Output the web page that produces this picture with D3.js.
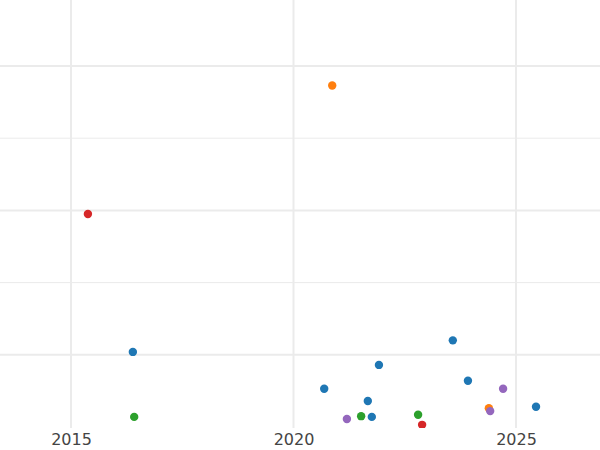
<!DOCTYPE html>
<html>
<head>
<meta charset="utf-8">
<script src="https://cdn.jsdelivr.net/npm/d3@7"></script>
<style>
  body { margin: 0; background: #fff; }
  text { font-family: "DejaVu Sans", sans-serif; }
</style>
</head>
<body>
<svg id="chart"></svg>
<script>
const years  = [2020.87, 2015.38, 2016.39, 2016.42, 2020.69, 2021.2, 2021.52, 2021.67, 2021.76, 2021.92, 2022.8, 2022.89, 2023.58, 2023.92, 2024.39, 2024.42, 2024.71, 2025.45]
const values = [4.73, 2.95, 1.04, 0.14, 0.53, 0.11, 0.15, 0.36, 0.14, 0.86, 0.17, 0.03, 1.2, 0.64, 0.26, 0.22, 0.53, 0.28]
const groups = ['orange', 'red', 'blue', 'green', 'blue', 'purple', 'green', 'blue', 'blue', 'blue', 'green', 'red', 'blue', 'blue', 'orange', 'purple', 'purple', 'blue']
const xTicks = [2015, 2020, 2025]
const yTicks = [1, 2, 3, 4, 5]

const width = 600
const height = 450
const plotBottom = 428

const palette = { blue: '#1f77b4', orange: '#ff7f0e', green: '#2ca02c', red: '#d62728', purple: '#9467bd' }

const svg = d3.select('#chart').attr('width', width).attr('height', height)

const x = d3.scaleLinear().domain([2015, 2025]).range([71, 516])
const y = d3.scaleLinear().domain([0, 5]).range([427, 66])

svg.append('defs').append('clipPath').attr('id', 'clip')
  .append('rect').attr('x', 0).attr('y', 0).attr('width', width).attr('height', plotBottom)

svg.append('g').selectAll('line').data(yTicks).enter().append('line')
  .attr('x1', 0).attr('x2', width)
  .attr('y1', d => y(d)).attr('y2', d => y(d))
  .attr('stroke', '#ebebeb').attr('stroke-width', d => d % 2 === 1 ? 2 : 1)

svg.append('g').selectAll('line').data(xTicks).enter().append('line')
  .attr('x1', d => x(d)).attr('x2', d => x(d))
  .attr('y1', 0).attr('y2', plotBottom)
  .attr('stroke', '#ebebeb').attr('stroke-width', 2)

const xAxis = d3.axisBottom(x).tickValues(xTicks).tickFormat(d3.format('d')).tickSize(0).tickPadding(6)
const ax = svg.append('g').attr('transform', `translate(0,${plotBottom})`).call(xAxis)
ax.select('.domain').remove()
ax.selectAll('text').attr('font-size', 16).attr('fill', '#444')

svg.append('g').attr('clip-path', 'url(#clip)')
  .selectAll('circle').data(years).enter().append('circle')
  .attr('cx', d => x(d))
  .attr('cy', (d, i) => y(values[i]))
  .attr('r', 4.2)
  .attr('fill', (d, i) => palette[groups[i]])
</script>
</body>
</html>
